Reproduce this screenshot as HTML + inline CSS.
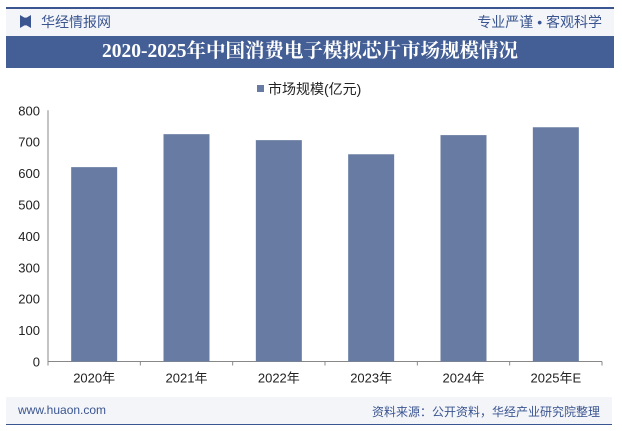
<!DOCTYPE html>
<html><head><meta charset="utf-8">
<style>
body{margin:0;width:622px;height:431px;background:#fff;font-family:"Liberation Sans","Noto Sans CJK SC",sans-serif;position:relative;overflow:hidden}
.abs{position:absolute}
</style></head><body>
<div class="abs" style="left:6px;top:7px;width:608px;height:2px;background:#3b5590"></div>
<div class="abs" style="left:6px;top:9px;width:608px;height:27px;background:#f3f5f9"></div>
<div class="abs" style="left:20px;top:15px;width:11px;height:13px;background:#3b5590;clip-path:polygon(0 0,40% 20%,60% 20%,100% 0,100% 100%,60% 80%,40% 80%,0 100%)"></div>
<div class="abs" style="left:41px;top:12px;font-size:14px;color:#3b5590">华经情报网</div>
<div class="abs" style="right:20px;top:12px;font-size:14px;color:#3b5590">专业严谨 • 客观科学</div>
<div class="abs" style="left:6px;top:36px;width:608px;height:32px;line-height:32px;text-align:center;color:#fff;font-family:'Liberation Serif','Noto Serif CJK SC',serif;font-weight:bold;font-size:19.5px;background:#445f95">2020-2025年中国消费电子模拟芯片市场规模情况</div>
<div class="abs" style="left:257px;top:79px;font-size:14px;color:#222"><span style="display:inline-block;width:7px;height:7px;background:#687ca3;margin-right:4px;vertical-align:2px"></span>市场规模(亿元)</div>
<svg class="abs" style="left:0;top:0" width="622" height="431" id="chart"></svg>
<div class="abs" style="left:6px;top:397px;width:606px;height:27px;background:#f3f5f9"></div>
<div class="abs" style="left:6px;top:424px;width:606px;height:1px;background:#3b5590"></div>
<div class="abs" style="left:18px;top:403px;font-size:12px;color:#3b5590">www.huaon.com</div>
<div class="abs" style="right:22px;top:403px;font-size:12px;color:#3b5590">资料来源：公开资料，华经产业研究院整理</div>
<script>
const categories=["2020年","2021年","2022年","2023年","2024年","2025年E"];
const values=[619,724,705,660,721,746];
const ticks=[0,100,200,300,400,500,600,700,800];
const svg=document.getElementById('chart');const NS="http://www.w3.org/2000/svg";
const x0=48,x1=602,y0=361.5,yTop=110.3,vmax=800;
const y=v=>y0-(v/vmax)*(y0-yTop);
const band=(x1-x0)/categories.length;
function mk(t,a){const e=document.createElementNS(NS,t);for(const k in a)e.setAttribute(k,a[k]);svg.appendChild(e);return e;}
ticks.forEach(t=>{
 const l=mk('text',{x:x0-8,y:y(t)+5,'text-anchor':'end','font-size':13,fill:'#222'});l.textContent=t;
 
 
});
const ax=mk('line',{x1:x0,y1:yTop,x2:x0,y2:y0,stroke:'#888'});


const bx=mk('line',{x1:x0,y1:y0,x2:x1,y2:y0,stroke:'#888'});


categories.forEach((c,i)=>{
 const tk=mk('line',{x1:x0+band*i,y1:y0,x2:x0+band*i,y2:y0+4,stroke:'#888'});
 
 
 const cx=x0+band*(i+0.5),w=46;
 const r=mk('rect',{x:cx-w/2,y:y(values[i]),width:w,height:y0-y(values[i]),fill:'#687ca3'});
 
 
 const t=mk('text',{x:cx,y:y0+21,'text-anchor':'middle','font-size':13,fill:'#222'});t.textContent=c;
 
 
});
const e=mk('line',{x1:x1,y1:y0,x2:x1,y2:y0+4,stroke:'#888'});


</script>
</body></html>
